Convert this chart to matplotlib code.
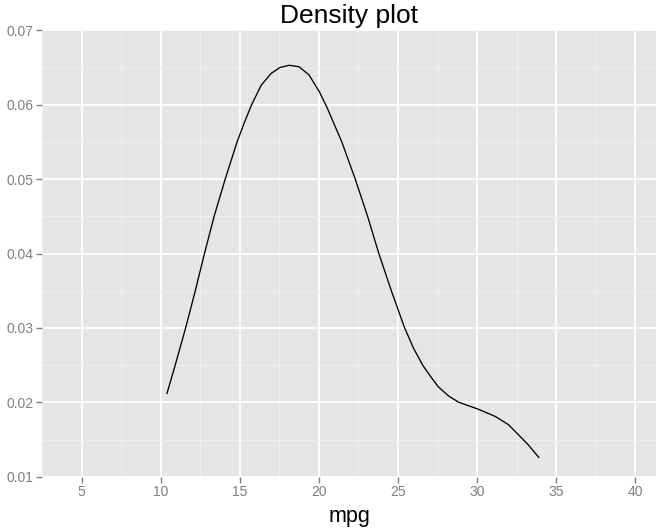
import matplotlib.pyplot as plt
import numpy as np

plt.rcParams['font.family'] = ['Liberation Sans', 'DejaVu Sans']

# density curve (mtcars mpg)
mpg = [10.4, 10.92, 11.58, 12.19, 12.77, 13.38, 14.08, 14.83, 15.31, 15.75,
       16.35, 16.98, 17.54, 18.13, 18.75, 19.38, 20.04, 20.5, 21.45, 22.3,
       23.08, 23.79, 24.58, 25.42, 26.0, 26.56, 27.05, 27.54, 28.23, 28.85,
       30.04, 31.15, 31.98, 32.54, 33.23, 33.9]
density = [0.0212, 0.0250, 0.0300, 0.0350, 0.0400, 0.0450, 0.0500, 0.0550, 0.0577, 0.0600,
           0.0626, 0.0642, 0.0650, 0.0653, 0.0651, 0.0640, 0.0617, 0.0597, 0.0550, 0.0500,
           0.0450, 0.0400, 0.0350, 0.0300, 0.0272, 0.0250, 0.0235, 0.0221, 0.0208, 0.0200,
           0.0191, 0.0181, 0.0170, 0.0158, 0.0143, 0.0126]

x_ticks = [5, 10, 15, 20, 25, 30, 35, 40]
y_ticks = [0.01, 0.02, 0.03, 0.04, 0.05, 0.06, 0.07]

fig = plt.figure(figsize=(6.63, 5.29), dpi=100)
ax = fig.add_axes([42 / 663, 52.3 / 529, 614 / 663, 446.4 / 529])
ax.set_facecolor('#e5e5e5')

ax.plot(mpg, density, color='black', lw=0.95, zorder=3, solid_joinstyle='round')

ax.set_xlim(2.94, 41.31)
ax.set_ylim(0.01, 0.07)
ax.set_xticks(x_ticks)
ax.set_yticks(y_ticks)
ax.set_xticks(np.arange(2.5, 42, 5), minor=True)
ax.set_yticks(np.arange(0.015, 0.07, 0.01), minor=True)
ax.set_yticklabels([f'{v:.2f}' for v in y_ticks])

ax.grid(which='major', color='white', lw=1.3)
ax.grid(which='minor', color='#f2f2f2', lw=0.6)
ax.set_axisbelow(True)
for s in ax.spines.values():
    s.set_visible(False)

ax.tick_params(which='major', length=4, width=1, color='#7f7f7f',
               labelcolor='#7f7f7f', labelsize=10, pad=2)
ax.tick_params(which='minor', length=0)

ax.set_title('Density plot', fontsize=19, color='black', pad=5)
ax.set_xlabel('mpg', fontsize=15.5, labelpad=5)

plt.savefig('out.png', dpi=100)
